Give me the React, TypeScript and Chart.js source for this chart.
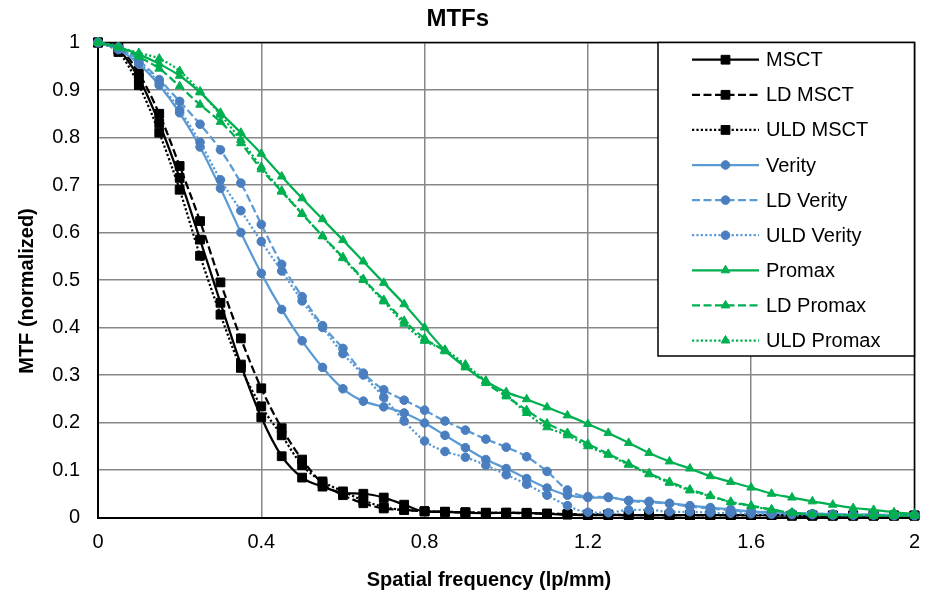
import React, { useEffect, useRef } from "react";
import { Chart, registerables } from "chart.js";

Chart.register(...registerables);

// ---------- data ----------
const freq = [0, 0.05, 0.1, 0.15, 0.2, 0.25, 0.3, 0.35, 0.4, 0.45, 0.5, 0.55, 0.6, 0.65, 0.7, 0.75, 0.8, 0.85, 0.9, 0.95, 1, 1.05, 1.1, 1.15, 1.2, 1.25, 1.3, 1.35, 1.4, 1.45, 1.5, 1.55, 1.6, 1.65, 1.7, 1.75, 1.8, 1.85, 1.9, 1.95, 2];

const msct = [1.0, 0.985, 0.925, 0.83, 0.715, 0.585, 0.452, 0.322, 0.211, 0.129, 0.084, 0.065, 0.052, 0.05, 0.042, 0.027, 0.013, 0.012, 0.01, 0.009, 0.01, 0.01, 0.008, 0.006, 0.005, 0.005, 0.005, 0.005, 0.005, 0.005, 0.005, 0.005, 0.005, 0.005, 0.004, 0.004, 0.004, 0.004, 0.004, 0.004, 0.004];
const ldMsct = [1.0, 0.99, 0.935, 0.85, 0.74, 0.624, 0.495, 0.377, 0.272, 0.188, 0.122, 0.072, 0.047, 0.03, 0.019, 0.016, 0.013, 0.012, 0.011, 0.01, 0.01, 0.009, 0.008, 0.007, 0.006, 0.006, 0.005, 0.005, 0.005, 0.005, 0.005, 0.005, 0.005, 0.005, 0.004, 0.004, 0.004, 0.004, 0.004, 0.004, 0.004];
const uldMsct = [1.0, 0.98, 0.91, 0.81, 0.69, 0.551, 0.427, 0.315, 0.234, 0.173, 0.11, 0.076, 0.055, 0.036, 0.022, 0.016, 0.013, 0.012, 0.011, 0.01, 0.01, 0.009, 0.008, 0.007, 0.006, 0.006, 0.005, 0.005, 0.005, 0.005, 0.005, 0.005, 0.005, 0.005, 0.004, 0.004, 0.004, 0.004, 0.004, 0.004, 0.004];

const verity = [1.0, 0.985, 0.955, 0.91, 0.852, 0.78, 0.693, 0.6, 0.514, 0.438, 0.372, 0.316, 0.271, 0.245, 0.233, 0.22, 0.199, 0.173, 0.147, 0.122, 0.103, 0.082, 0.062, 0.047, 0.042, 0.042, 0.036, 0.034, 0.03, 0.025, 0.021, 0.017, 0.013, 0.011, 0.009, 0.008, 0.007, 0.006, 0.006, 0.005, 0.005];
const ldVerity = [1.0, 0.99, 0.962, 0.922, 0.876, 0.828, 0.774, 0.704, 0.617, 0.533, 0.465, 0.404, 0.356, 0.304, 0.269, 0.247, 0.226, 0.203, 0.184, 0.165, 0.148, 0.128, 0.097, 0.058, 0.044, 0.043, 0.035, 0.032, 0.029, 0.023, 0.019, 0.015, 0.012, 0.01, 0.009, 0.008, 0.007, 0.006, 0.006, 0.005, 0.005];
const uldVerity = [1.0, 0.99, 0.958, 0.915, 0.858, 0.79, 0.711, 0.646, 0.581, 0.519, 0.456, 0.4, 0.345, 0.3, 0.253, 0.203, 0.161, 0.139, 0.127, 0.11, 0.09, 0.07, 0.047, 0.025, 0.011, 0.01, 0.016, 0.016, 0.012, 0.012, 0.01, 0.009, 0.008, 0.007, 0.006, 0.006, 0.005, 0.005, 0.005, 0.004, 0.004];

const promax = [1.0, 0.99, 0.975, 0.955, 0.93, 0.895, 0.852, 0.81, 0.766, 0.718, 0.672, 0.628, 0.584, 0.539, 0.494, 0.449, 0.4, 0.352, 0.316, 0.287, 0.264, 0.249, 0.232, 0.215, 0.197, 0.178, 0.157, 0.136, 0.118, 0.103, 0.087, 0.075, 0.063, 0.05, 0.042, 0.034, 0.027, 0.02, 0.016, 0.011, 0.008];
const ldPromax = [1.0, 0.99, 0.97, 0.945, 0.908, 0.869, 0.833, 0.788, 0.733, 0.686, 0.639, 0.593, 0.548, 0.502, 0.458, 0.414, 0.377, 0.35, 0.318, 0.283, 0.255, 0.226, 0.198, 0.178, 0.155, 0.134, 0.113, 0.093, 0.075, 0.059, 0.046, 0.033, 0.025, 0.017, 0.01, 0.007, 0.005, 0.005, 0.004, 0.004, 0.004];
const uldPromax = [1.0, 0.99, 0.978, 0.966, 0.94, 0.897, 0.848, 0.795, 0.738, 0.688, 0.64, 0.592, 0.546, 0.5, 0.455, 0.408, 0.372, 0.353, 0.322, 0.288, 0.258, 0.22, 0.19, 0.173, 0.15, 0.132, 0.111, 0.091, 0.073, 0.057, 0.045, 0.032, 0.024, 0.016, 0.01, 0.007, 0.005, 0.005, 0.004, 0.004, 0.004];

const seriesLabels = ["MSCT", "LD MSCT", "ULD MSCT", "Verity", "LD Verity", "ULD Verity", "Promax", "LD Promax", "ULD Promax"];
const seriesValues = [msct, ldMsct, uldMsct, verity, ldVerity, uldVerity, promax, ldPromax, uldPromax];

const xTicks = [0, 0.4, 0.8, 1.2, 1.6, 2];

const chartTitle = "MTFs";
const xTitle = "Spatial frequency (lp/mm)";
const yTitle = "MTF (normalized)";

// ---------- styles ----------
const FONT = "'Liberation Sans', Arial, Helvetica, sans-serif";
const BLACK = "#000000";
const BLUE_LINE = "#5B9BD5";
const BLUE_MARK = "#4A7EBF";
const GREEN = "#00B050";
const DASH = [8, 3.5];
const DOT = [2.2, 2.2];
const LINE_W = 2.25;

type Style = { line: string; mark: string; dash: number[]; shape: string; r: number };
const styles: Style[] = [
  { line: BLACK, mark: BLACK, dash: [], shape: "rect", r: 6.2 },
  { line: BLACK, mark: BLACK, dash: DASH, shape: "rect", r: 6.2 },
  { line: BLACK, mark: BLACK, dash: DOT, shape: "rect", r: 6.2 },
  { line: BLUE_LINE, mark: BLUE_MARK, dash: [], shape: "circle", r: 4.3 },
  { line: BLUE_LINE, mark: BLUE_MARK, dash: DASH, shape: "circle", r: 4.3 },
  { line: BLUE_LINE, mark: BLUE_MARK, dash: DOT, shape: "circle", r: 4.3 },
  { line: GREEN, mark: GREEN, dash: [], shape: "triangle", r: 5 },
  { line: GREEN, mark: GREEN, dash: DASH, shape: "triangle", r: 5 },
  { line: GREEN, mark: GREEN, dash: DOT, shape: "triangle", r: 5 },
];

function drawMarker(ctx: CanvasRenderingContext2D, shape: string, r: number, x: number, y: number) {
  ctx.beginPath();
  if (shape === "rect") {
    const s = Math.SQRT1_2 * r;
    ctx.rect(x - s, y - s, 2 * s, 2 * s);
  } else if (shape === "circle") {
    ctx.arc(x, y, r, 0, Math.PI * 2);
  } else {
    for (let k = 0; k < 3; k++) {
      const a = (k * 2 * Math.PI) / 3;
      const px = x + Math.sin(a) * r;
      const py = y - Math.cos(a) * r;
      if (k === 0) ctx.moveTo(px, py);
      else ctx.lineTo(px, py);
    }
    ctx.closePath();
  }
  ctx.fill();
  ctx.stroke();
}

const frameBorderPlugin = {
  id: "frameBorder",
  beforeDatasetsDraw(chart: any) {
    const { ctx, chartArea } = chart;
    ctx.save();
    ctx.strokeStyle = "#000";
    ctx.lineWidth = 1.5;
    ctx.beginPath();
    ctx.moveTo(chartArea.left, chartArea.top);
    ctx.lineTo(chartArea.right, chartArea.top);
    ctx.lineTo(chartArea.right, chartArea.bottom);
    ctx.stroke();
    ctx.restore();
  },
};

const axisTitlesPlugin = {
  id: "axisTitles",
  afterDraw(chart: any) {
    const { ctx } = chart;
    ctx.save();
    ctx.fillStyle = "#000";
    ctx.font = `bold 20px ${FONT}`;
    ctx.textAlign = "center";
    ctx.textBaseline = "middle";
    ctx.fillText(xTitle, 489, 580);
    ctx.translate(27, 291);
    ctx.rotate(-Math.PI / 2);
    ctx.fillText(yTitle, 0, 0);
    ctx.restore();
  },
};

const boxLegendPlugin = {
  id: "boxLegend",
  afterDraw(chart: any) {
    const { ctx, chartArea } = chart;
    const left = 658;
    const top = chartArea.top;
    const right = chartArea.right;
    const bottom = 356;
    ctx.save();
    ctx.fillStyle = "#fff";
    ctx.fillRect(left, top, right - left, bottom - top);
    ctx.strokeStyle = "#000";
    ctx.lineWidth = 1.5;
    ctx.strokeRect(left, top, right - left, bottom - top);
    const rowH = 35.1;
    const y0 = 59.7;
    seriesLabels.forEach((label, i) => {
      const s = styles[i];
      const y = y0 + i * rowH;
      ctx.save();
      ctx.strokeStyle = s.line;
      ctx.lineWidth = LINE_W;
      ctx.setLineDash(s.dash);
      ctx.beginPath();
      ctx.moveTo(692, y);
      ctx.lineTo(759, y);
      ctx.stroke();
      ctx.restore();
      ctx.save();
      ctx.fillStyle = s.mark;
      ctx.strokeStyle = s.mark;
      ctx.lineWidth = 1;
      drawMarker(ctx, s.shape, s.r, 725.5, y);
      ctx.restore();
      ctx.fillStyle = "#000";
      ctx.font = `20px ${FONT}`;
      ctx.textAlign = "left";
      ctx.textBaseline = "middle";
      ctx.fillText(label, 766, y + 1);
    });
    ctx.restore();
  },
};

export default function App() {
  const canvasRef = useRef<HTMLCanvasElement>(null);

  useEffect(() => {
    const canvas = canvasRef.current;
    if (!canvas) return;

    const datasets = seriesLabels.map((label, i) => {
      const s = styles[i];
      return {
        label,
        data: seriesValues[i].map((v, k) => ({ x: freq[k], y: v })),
        borderColor: s.line,
        backgroundColor: s.mark,
        pointBackgroundColor: s.mark,
        pointBorderColor: s.mark,
        pointBorderWidth: 1,
        pointStyle: s.shape,
        pointRadius: s.r,
        pointHoverRadius: s.r,
        borderWidth: LINE_W,
        borderDash: s.dash,
        cubicInterpolationMode: "monotone" as const,
        clip: false as any,
        order: seriesLabels.length - i,
      };
    });

    const chart = new Chart(canvas, {
      type: "line",
      data: { datasets },
      options: {
        responsive: false,
        animation: false,
        events: [],
        layout: { padding: { left: 0, right: 17.5, top: 0, bottom: 0 } },
        plugins: {
          legend: { display: false },
          tooltip: { enabled: false },
          title: {
            display: true,
            text: chartTitle,
            color: "#000",
            font: { family: FONT, size: 24, weight: "bold", lineHeight: 1.2 },
            padding: { top: 5, bottom: 8.7 },
          },
        },
        scales: {
          x: {
            type: "linear",
            min: 0,
            max: 2,
            afterFit: (scale: any) => {
              scale.height = 80.5;
            },
            afterBuildTicks: (scale: any) => {
              scale.ticks = xTicks.map((v) => ({ value: v }));
            },
            ticks: {
              color: "#000",
              padding: 13,
              maxRotation: 0,
              autoSkip: false,
              font: { family: FONT, size: 20 },
              callback: (v: any) => String(+(+v).toFixed(2)),
            },
            grid: { color: "#878787", lineWidth: 1.5, drawTicks: false },
            border: { display: true, color: "#000", width: 2 },
          },
          y: {
            type: "linear",
            min: 0,
            max: 1,
            afterFit: (scale: any) => {
              scale.width = 98;
            },
            ticks: {
              stepSize: 0.1,
              color: "#000",
              padding: 18,
              autoSkip: false,
              font: { family: FONT, size: 20 },
              callback: (v: any) => String(+(+v).toFixed(2)),
            },
            grid: { color: "#878787", lineWidth: 1.5, drawTicks: false },
            border: { display: true, color: "#000", width: 2 },
          },
        },
      },
      plugins: [frameBorderPlugin, axisTitlesPlugin, boxLegendPlugin],
    } as any);

    return () => chart.destroy();
  }, []);

  return (
    <div style={{ position: "fixed", left: 0, top: 0, width: 933, height: 598, background: "#fff" }}>
      <canvas ref={canvasRef} width={933} height={598} style={{ display: "block", width: 933, height: 598 }} />
    </div>
  );
}
